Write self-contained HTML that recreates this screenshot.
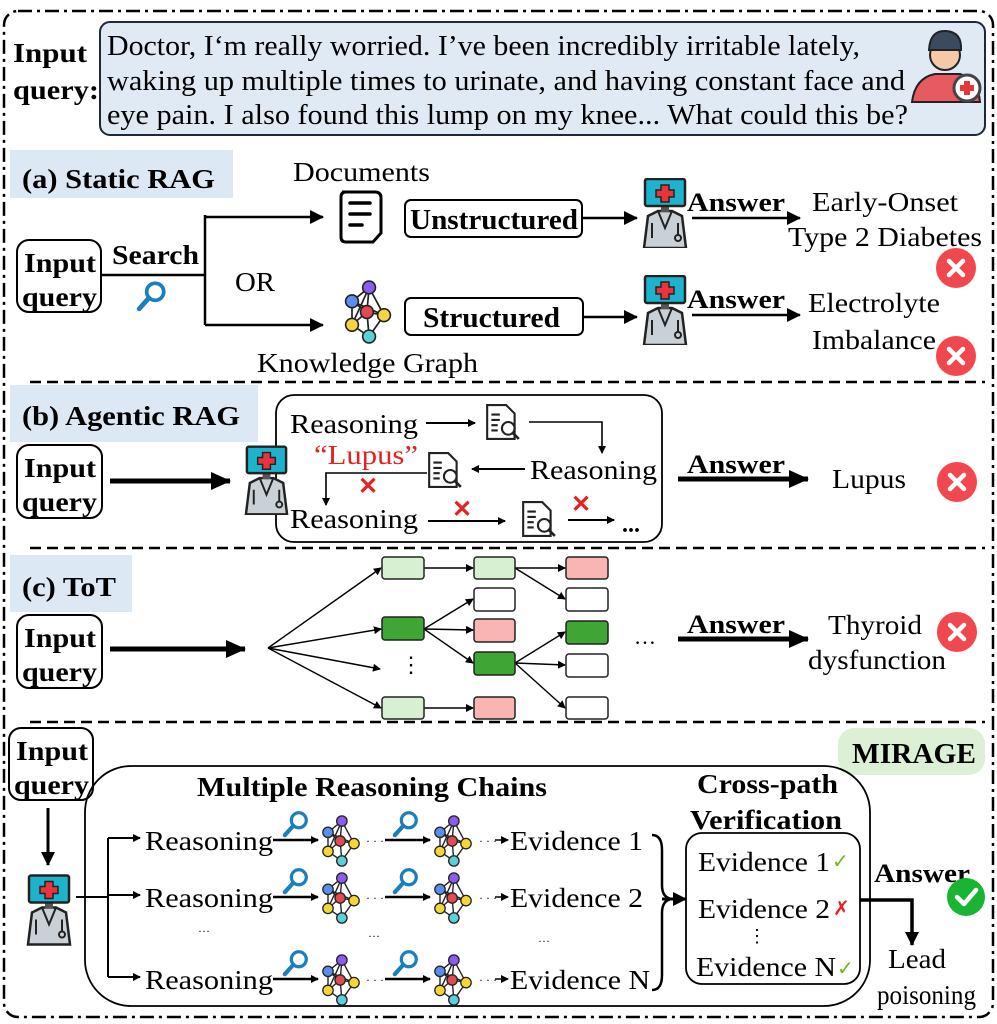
<!DOCTYPE html>
<html><head><meta charset="utf-8"><style>
html,body{margin:0;padding:0;background:#fff;}
svg{display:block;font-family:"Liberation Serif",serif;}
.b{font-weight:bold;}
</style></head><body>
<svg width="997" height="1024" viewBox="0 0 997 1024" xmlns="http://www.w3.org/2000/svg">
<defs>
<marker id="ah" markerWidth="8" markerHeight="8" refX="7" refY="4" orient="auto" markerUnits="userSpaceOnUse"><path d="M0,0 L8,4 L0,8 z" fill="#000"/></marker>
<marker id="ahb" markerWidth="20" markerHeight="18" refX="19" refY="9" orient="auto" markerUnits="userSpaceOnUse"><path d="M0,0 L20,9 L0,18 z" fill="#000"/></marker>
<marker id="ahm" markerWidth="14" markerHeight="14" refX="13" refY="7" orient="auto" markerUnits="userSpaceOnUse"><path d="M0,0 L14,7 L0,14 z" fill="#000"/></marker>
<symbol id="doc" viewBox="0 0 50 70">
 <path d="M8,38 L18,33 L32,33 L42,38 L46,70 L4,70 z" fill="#c9d1d6" stroke="#222" stroke-width="2.5"/>
 <path d="M18,33 L25,50 L32,33" fill="none" stroke="#222" stroke-width="2"/>
 <path d="M12,45 L12,60 M38,45 L38,58" stroke="#222" stroke-width="2" fill="none"/>
 <circle cx="38" cy="60" r="3" fill="none" stroke="#222" stroke-width="2"/>
 <rect x="21" y="27" width="8" height="7" fill="#555"/>
 <rect x="5" y="1" width="40" height="27" rx="2" fill="#1eb3cc" stroke="#222" stroke-width="2.5"/>
 <path d="M21,7 h8 v5 h5 v7 h-5 v5 h-8 v-5 h-5 v-7 h5 z" fill="#e8343a" stroke="#222" stroke-width="1.5"/>
</symbol>
<symbol id="kg" viewBox="0 0 50 60">
 <g stroke="#222" stroke-width="1.6" fill="none">
  <path d="M26,7 L10,20 L24,30 L26,7 L40,33 L24,30 L10,42 L26,53 L40,33 M10,20 L10,42 M24,30 L26,53 M10,20 L40,33 M26,7 L10,42"/>
 </g>
 <circle cx="26" cy="7" r="6" fill="#8b5cf0" stroke="#222" stroke-width="1.5"/>
 <circle cx="10" cy="20" r="6" fill="#5b8ef0" stroke="#222" stroke-width="1.5"/>
 <circle cx="24" cy="30" r="6" fill="#e04a55" stroke="#222" stroke-width="1.5"/>
 <circle cx="40" cy="33" r="6" fill="#f5d63a" stroke="#222" stroke-width="1.5"/>
 <circle cx="10" cy="42" r="6" fill="#f5d63a" stroke="#222" stroke-width="1.5"/>
 <circle cx="26" cy="53" r="6" fill="#5ccfd8" stroke="#222" stroke-width="1.5"/>
</symbol>
<symbol id="mag" viewBox="0 0 30 30">
 <circle cx="18" cy="11" r="8" fill="none" stroke="#1a7fbf" stroke-width="3.5"/>
 <path d="M12,17 L3,27" stroke="#1a7fbf" stroke-width="4.5" stroke-linecap="round"/>
</symbol>
<symbol id="dsr" viewBox="0 0 36 36">
 <path d="M3,2 h18 l8,8 v24 h-26 z" fill="#fff" stroke="#222" stroke-width="2"/>
 <path d="M7,11 h8 M7,16 h8 M7,21 h6 M7,26 h6" stroke="#222" stroke-width="2"/>
 <circle cx="23" cy="24" r="6" fill="#fff" stroke="#222" stroke-width="2"/>
 <path d="M27,28 L33,34" stroke="#222" stroke-width="2.5"/>
</symbol>
<symbol id="xc" viewBox="0 0 40 40">
 <circle cx="20" cy="20" r="20" fill="#f0484e"/>
 <path d="M13,13 L27,27 M27,13 L13,27" stroke="#fff" stroke-width="4.5" stroke-linecap="round"/>
</symbol>
</defs>

<rect x="4" y="11" width="989" height="1006" rx="14" fill="none" stroke="#000" stroke-width="2.5" stroke-dasharray="14,5,3,5"/>

<text x="13" y="62" font-size="27" class="b" textLength="74" lengthAdjust="spacingAndGlyphs">Input</text>
<text x="13" y="99" font-size="27" class="b" textLength="86" lengthAdjust="spacingAndGlyphs">query:</text>
<rect x="100" y="22" width="885" height="113" rx="10" fill="#dfeaf5" stroke="#1b2b3b" stroke-width="2"/>
<text x="107" y="55" font-size="28" textLength="753" lengthAdjust="spacingAndGlyphs">Doctor, I‘m really worried. I’ve been incredibly irritable lately,</text>
<text x="107" y="90" font-size="28" textLength="798" lengthAdjust="spacingAndGlyphs">waking up multiple times to urinate, and having constant face and</text>
<text x="107" y="124" font-size="28" textLength="801" lengthAdjust="spacingAndGlyphs">eye pain. I also found this lump on my knee... What could this be?</text>
<g>
 <path d="M912,102 Q915,78 935,74 L960,74 Q978,80 980,102 z" fill="#e85a62" stroke="#222" stroke-width="2"/>
 <circle cx="945" cy="55" r="15" fill="#f6c9a6" stroke="#222" stroke-width="2"/>
 <path d="M929,50 Q930,30 946,31 Q962,32 961,50 z" fill="#3b4a5e" stroke="#222" stroke-width="2"/>
 <circle cx="967" cy="88" r="13" fill="#fff" stroke="#444" stroke-width="3"/>
 <path d="M964,81 h6 v4 h4 v6 h-4 v4 h-6 v-4 h-4 v-6 h4 z" fill="#e8343a"/>
</g>

<rect x="10" y="150" width="223" height="48" fill="#dce8f4"/>
<text x="22" y="188" font-size="27" class="b" textLength="193" lengthAdjust="spacingAndGlyphs">(a) Static RAG</text>
<text x="293" y="181" font-size="27" textLength="137" lengthAdjust="spacingAndGlyphs">Documents</text>
<g><path d="M342,192 h33 q6,0 6,6 v35 l-8,9 h-27 q-5,0 -5,-5 v-40 q0,-5 5,-5z" fill="#fff" stroke="#000" stroke-width="3"/>
<path d="M350,203 h20 M350,214 h20 M350,225 h12" stroke="#000" stroke-width="3.5" stroke-linecap="round"/></g>
<rect x="17" y="240" width="84" height="72" rx="12" fill="#fff" stroke="#000" stroke-width="2"/>
<text x="24" y="272" font-size="27" class="b" textLength="72" lengthAdjust="spacingAndGlyphs">Input</text>
<text x="22" y="306" font-size="27" class="b" textLength="75" lengthAdjust="spacingAndGlyphs">query</text>
<text x="112" y="264" font-size="27" class="b" textLength="87" lengthAdjust="spacingAndGlyphs">Search</text>
<use href="#mag" x="136" y="280" width="32" height="32"/>
<path d="M101,275 H205 M205,215 V325" stroke="#000" stroke-width="2.5" fill="none"/>
<path d="M205,217 H323" stroke="#000" stroke-width="2.5" marker-end="url(#ahm)"/>
<path d="M205,325 H323" stroke="#000" stroke-width="2.5" marker-end="url(#ahm)"/>
<text x="235" y="291" font-size="27" textLength="40" lengthAdjust="spacingAndGlyphs">OR</text>
<use href="#kg" x="333" y="280" width="70" height="64"/>
<text x="257" y="372" font-size="27" textLength="221" lengthAdjust="spacingAndGlyphs">Knowledge Graph</text>
<rect x="405" y="200" width="177" height="37" rx="6" fill="#fff" stroke="#000" stroke-width="2"/>
<text x="410" y="229" font-size="28" class="b" textLength="168" lengthAdjust="spacingAndGlyphs">Unstructured</text>
<rect x="405" y="298" width="178" height="37" rx="6" fill="#fff" stroke="#000" stroke-width="2"/>
<text x="423" y="327" font-size="28" class="b" textLength="137" lengthAdjust="spacingAndGlyphs">Structured</text>
<path d="M583,218 H637" stroke="#000" stroke-width="2.5" marker-end="url(#ahm)"/>
<path d="M583,317 H637" stroke="#000" stroke-width="2.5" marker-end="url(#ahm)"/>
<use href="#doc" x="640" y="178" width="50" height="70"/>
<use href="#doc" x="640" y="275" width="50" height="70"/>
<text x="687" y="211" font-size="26" class="b" textLength="98" lengthAdjust="spacingAndGlyphs">Answer</text>
<path d="M692,218 H800" stroke="#000" stroke-width="2.5" marker-end="url(#ahm)"/>
<text x="687" y="308" font-size="26" class="b" textLength="98" lengthAdjust="spacingAndGlyphs">Answer</text>
<path d="M692,315 H800" stroke="#000" stroke-width="2.5" marker-end="url(#ahm)"/>
<text x="812" y="211" font-size="27" textLength="146" lengthAdjust="spacingAndGlyphs">Early-Onset</text>
<text x="788" y="246" font-size="27" textLength="194" lengthAdjust="spacingAndGlyphs">Type 2 Diabetes</text>
<text x="808" y="312" font-size="27" textLength="132" lengthAdjust="spacingAndGlyphs">Electrolyte</text>
<text x="812" y="349" font-size="27" textLength="124" lengthAdjust="spacingAndGlyphs">Imbalance</text>
<use href="#xc" x="936" y="248" width="40" height="40"/>
<use href="#xc" x="936" y="336" width="40" height="40"/>

<path d="M30,382 H985" stroke="#000" stroke-width="2.5" stroke-dasharray="11,6"/>

<rect x="10" y="385" width="248" height="57" fill="#dce8f4"/>
<text x="22" y="425" font-size="27" class="b" textLength="218" lengthAdjust="spacingAndGlyphs">(b) Agentic RAG</text>
<rect x="17" y="445" width="85" height="73" rx="12" fill="#fff" stroke="#000" stroke-width="2"/>
<text x="24" y="477" font-size="27" class="b" textLength="72" lengthAdjust="spacingAndGlyphs">Input</text>
<text x="22" y="511" font-size="27" class="b" textLength="75" lengthAdjust="spacingAndGlyphs">query</text>
<path d="M110,481 H230" stroke="#000" stroke-width="5" marker-end="url(#ahb)"/>
<rect x="276" y="395" width="386" height="147" rx="18" fill="#fff" stroke="#000" stroke-width="1.8"/>
<use href="#doc" x="242" y="445" width="49" height="70"/>
<text x="290" y="433" font-size="27" textLength="128" lengthAdjust="spacingAndGlyphs">Reasoning</text>
<path d="M426,423 H475" stroke="#000" stroke-width="2" marker-end="url(#ah)"/>
<use href="#dsr" x="484" y="403" width="38" height="38"/>
<path d="M529,422 H602 V453" stroke="#000" stroke-width="1.6" fill="none" marker-end="url(#ah)"/>
<text x="530" y="479" font-size="27" textLength="127" lengthAdjust="spacingAndGlyphs">Reasoning</text>
<path d="M525,469 H472" stroke="#000" stroke-width="2" marker-end="url(#ah)"/>
<use href="#dsr" x="426" y="451" width="38" height="38"/>
<text x="314" y="464" font-size="27" fill="#e8201e" textLength="104" lengthAdjust="spacingAndGlyphs">“Lupus”</text>
<path d="M427,473 H326 V505" stroke="#000" stroke-width="1.6" fill="none" marker-end="url(#ah)"/>
<text x="358" y="494" font-size="24" fill="#e8201e" class="b">✕</text>
<text x="290" y="528" font-size="27" textLength="128" lengthAdjust="spacingAndGlyphs">Reasoning</text>
<path d="M428,521 H505" stroke="#000" stroke-width="2" marker-end="url(#ah)"/>
<text x="452" y="517" font-size="24" fill="#e8201e" class="b">✕</text>
<use href="#dsr" x="520" y="500" width="38" height="38"/>
<text x="571" y="512" font-size="24" fill="#e8201e" class="b">✕</text>
<path d="M568,520 H614" stroke="#000" stroke-width="2" marker-end="url(#ah)"/>
<text x="622" y="532" font-size="24" class="b">...</text>
<text x="687" y="473" font-size="26" class="b" textLength="98" lengthAdjust="spacingAndGlyphs">Answer</text>
<path d="M678,479 H808" stroke="#000" stroke-width="5" marker-end="url(#ahb)"/>
<text x="832" y="488" font-size="27" textLength="74" lengthAdjust="spacingAndGlyphs">Lupus</text>
<use href="#xc" x="937" y="462" width="40" height="40"/>

<path d="M30,548 H985" stroke="#000" stroke-width="2.5" stroke-dasharray="11,6"/>

<rect x="10" y="555" width="122" height="57" fill="#dce8f4"/>
<text x="22" y="596" font-size="27" class="b" textLength="94" lengthAdjust="spacingAndGlyphs">(c) ToT</text>
<rect x="17" y="615" width="85" height="73" rx="12" fill="#fff" stroke="#000" stroke-width="2"/>
<text x="24" y="647" font-size="27" class="b" textLength="72" lengthAdjust="spacingAndGlyphs">Input</text>
<text x="22" y="681" font-size="27" class="b" textLength="75" lengthAdjust="spacingAndGlyphs">query</text>
<path d="M110,649 H245" stroke="#000" stroke-width="5" marker-end="url(#ahb)"/>
<g stroke="#000" stroke-width="1.4" fill="none">
 <path d="M268,648 L381,568" marker-end="url(#ah)"/>
 <path d="M268,648 L381,629" marker-end="url(#ah)"/>
 <path d="M268,648 L380,669" marker-end="url(#ah)"/>
 <path d="M268,648 L381,708" marker-end="url(#ah)"/>
 <path d="M424,568 H473" marker-end="url(#ah)"/>
 <path d="M424,629 L473,599" marker-end="url(#ah)"/>
 <path d="M424,629 L473,630" marker-end="url(#ah)"/>
 <path d="M424,629 L473,663" marker-end="url(#ah)"/>
 <path d="M424,708 H473" marker-end="url(#ah)"/>
 <path d="M515,568 H565" marker-end="url(#ah)"/>
 <path d="M515,568 L565,599" marker-end="url(#ah)"/>
 <path d="M515,663 L565,632" marker-end="url(#ah)"/>
 <path d="M515,663 L565,665" marker-end="url(#ah)"/>
 <path d="M515,663 L565,708" marker-end="url(#ah)"/>
</g>
<g stroke="#222" stroke-width="1.5">
 <rect x="382" y="557" width="42" height="22" rx="3" fill="#d8f0d2"/>
 <rect x="382" y="617" width="42" height="23" rx="3" fill="#3fa535"/>
 <rect x="382" y="697" width="42" height="22" rx="3" fill="#d8f0d2"/>
 <rect x="474" y="557" width="41" height="22" rx="3" fill="#d8f0d2"/>
 <rect x="474" y="588" width="41" height="23" rx="3" fill="#fff"/>
 <rect x="474" y="619" width="41" height="23" rx="3" fill="#f9b4b4"/>
 <rect x="474" y="652" width="41" height="23" rx="3" fill="#3fa535"/>
 <rect x="474" y="697" width="41" height="22" rx="3" fill="#f9b4b4"/>
 <rect x="566" y="557" width="42" height="22" rx="3" fill="#f9b4b4"/>
 <rect x="566" y="588" width="42" height="23" rx="3" fill="#fff"/>
 <rect x="566" y="621" width="42" height="23" rx="3" fill="#3fa535"/>
 <rect x="566" y="654" width="42" height="23" rx="3" fill="#fff"/>
 <rect x="566" y="697" width="42" height="22" rx="3" fill="#fff"/>
</g>
<text x="400" y="672" font-size="22">⋮</text>
<text x="634" y="644" font-size="22">…</text>
<text x="687" y="633" font-size="26" class="b" textLength="98" lengthAdjust="spacingAndGlyphs">Answer</text>
<path d="M678,639 H808" stroke="#000" stroke-width="5" marker-end="url(#ahb)"/>
<text x="828" y="634" font-size="27" textLength="94" lengthAdjust="spacingAndGlyphs">Thyroid</text>
<text x="808" y="669" font-size="27" textLength="138" lengthAdjust="spacingAndGlyphs">dysfunction</text>
<use href="#xc" x="937" y="612" width="40" height="40"/>

<path d="M30,722 H985" stroke="#000" stroke-width="2.5" stroke-dasharray="11,6"/>

<rect x="838" y="728" width="147" height="47" rx="16" fill="#dcf0d6"/>
<text x="852" y="763" font-size="28" class="b" textLength="124" lengthAdjust="spacingAndGlyphs">MIRAGE</text>
<rect x="9" y="728" width="84" height="72" rx="12" fill="#fff" stroke="#000" stroke-width="2"/>
<text x="16" y="760" font-size="27" class="b" textLength="72" lengthAdjust="spacingAndGlyphs">Input</text>
<text x="14" y="794" font-size="27" class="b" textLength="75" lengthAdjust="spacingAndGlyphs">query</text>
<path d="M48,808 V865" stroke="#000" stroke-width="3" marker-end="url(#ahm)"/>
<use href="#doc" x="24" y="872" width="50" height="75"/>
<rect x="85" y="766" width="785" height="240" rx="46" fill="none" stroke="#000" stroke-width="1.8"/>
<text x="197" y="796" font-size="27" class="b" textLength="350" lengthAdjust="spacingAndGlyphs">Multiple Reasoning Chains</text>
<text x="697" y="793" font-size="27" class="b" textLength="141" lengthAdjust="spacingAndGlyphs">Cross-path</text>
<text x="690" y="829" font-size="27" class="b" textLength="152" lengthAdjust="spacingAndGlyphs">Verification</text>
<path d="M76,897 H108 M108,838 V977" stroke="#000" stroke-width="2" fill="none"/>
<path d="M108,838 H140" stroke="#000" stroke-width="2" marker-end="url(#ah)"/>
<path d="M108,895 H140" stroke="#000" stroke-width="2" marker-end="url(#ah)"/>
<path d="M108,977 H140" stroke="#000" stroke-width="2" marker-end="url(#ah)"/>
<g id="row1">
 <text x="145" y="850" font-size="27" textLength="128" lengthAdjust="spacingAndGlyphs">Reasoning</text>
 <path d="M273,840 H318" stroke="#000" stroke-width="2.5" marker-end="url(#ah)"/>
 <use href="#mag" x="282" y="810" width="28" height="28"/>
 <use href="#kg" x="318" y="815" width="46" height="52"/>
 <text x="366" y="845" font-size="12">· · ·</text>
 <path d="M385,840 H430" stroke="#000" stroke-width="2.5" marker-end="url(#ah)"/>
 <use href="#mag" x="392" y="810" width="28" height="28"/>
 <use href="#kg" x="430" y="815" width="46" height="52"/>
 <text x="479" y="845" font-size="12">· · ·</text>
 <path d="M495,840 H508" stroke="#000" stroke-width="1.5" marker-end="url(#ah)"/>
</g>
<use href="#row1" x="0" y="57"/>
<use href="#row1" x="0" y="139"/>
<text x="510" y="850" font-size="27" textLength="133" lengthAdjust="spacingAndGlyphs">Evidence 1</text>
<text x="510" y="907" font-size="27" textLength="133" lengthAdjust="spacingAndGlyphs">Evidence 2</text>
<text x="510" y="989" font-size="27" textLength="140" lengthAdjust="spacingAndGlyphs">Evidence N</text>
<text x="198" y="935" font-size="12">···</text>
<text x="368" y="940" font-size="12">···</text>
<text x="538" y="945" font-size="12">···</text>
<path d="M652,835 Q662,835 662,850 V885 Q662,898 672,899 Q662,900 662,913 V975 Q662,990 652,990" fill="none" stroke="#000" stroke-width="2.5"/>
<path d="M662,899 H686" stroke="#000" stroke-width="3" marker-end="url(#ahm)"/>
<rect x="686" y="833" width="174" height="151" rx="16" fill="none" stroke="#000" stroke-width="1.8"/>
<text x="698" y="871" font-size="27" textLength="132" lengthAdjust="spacingAndGlyphs">Evidence 1</text><text x="832" y="868" font-size="20" fill="#6cb52a">✓</text>
<text x="698" y="918" font-size="27" textLength="132" lengthAdjust="spacingAndGlyphs">Evidence 2</text><text x="833" y="915" font-size="20" fill="#e8201e">✗</text>
<text x="748" y="942" font-size="18">⋮</text>
<text x="696" y="976" font-size="27" textLength="140" lengthAdjust="spacingAndGlyphs">Evidence N</text><text x="837" y="975" font-size="20" fill="#6cb52a">✓</text>
<text x="874" y="882" font-size="26" class="b" textLength="96" lengthAdjust="spacingAndGlyphs">Answer</text>
<path d="M860,900 H912 V945" stroke="#000" stroke-width="3.5" fill="none" marker-end="url(#ahm)"/>
<circle cx="966" cy="897" r="19" fill="#18b432"/>
<path d="M957,897 L964,904 L976,890" stroke="#fff" stroke-width="4.5" fill="none" stroke-linecap="round" stroke-linejoin="round"/>
<text x="888" y="968" font-size="27" textLength="58" lengthAdjust="spacingAndGlyphs">Lead</text>
<text x="877" y="1004" font-size="27" textLength="99" lengthAdjust="spacingAndGlyphs">poisoning</text>
</svg>
</body></html>
